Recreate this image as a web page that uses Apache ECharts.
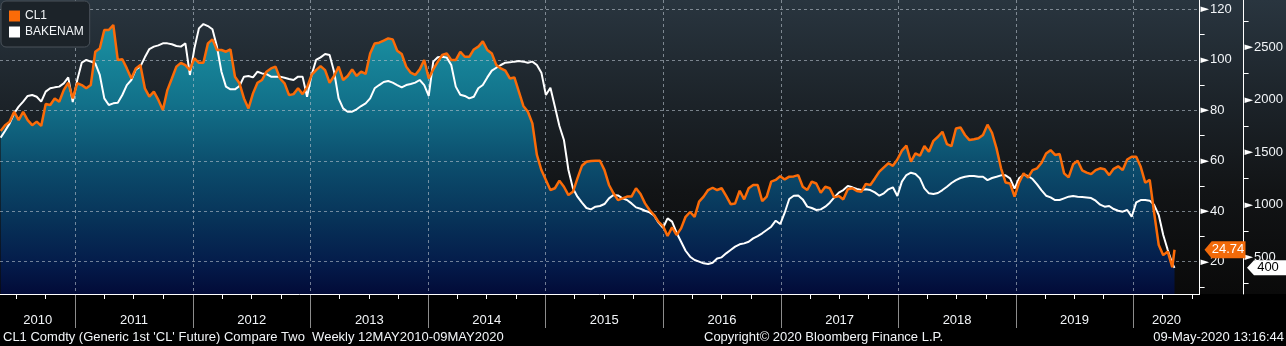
<!DOCTYPE html>
<html>
<head>
<meta charset="utf-8">
<script src="https://cdn.jsdelivr.net/npm/echarts@6/dist/echarts.min.js"></script>
<style>
html, body { margin: 0; padding: 0; background: #000; }
#chart { width: 1286px; height: 346px; }
</style>
</head>
<body>
<div id="chart"></div>
<script>
// CL1 front-month crude future (USD/bbl) against the Baker Hughes North America rig count.
// Biweekly samples from 14 May 2010, plus the final weekly print of 08 May 2020.
const firstSample = [2010, 4, 14];
const stepDays = 14;
const lastSample = [2020, 4, 8];

const cl1 = [
  71.8, 74.1, 75.5, 79.4, 76.1, 79.4, 76.1, 74.1, 75.5, 73.8,
  82.5, 82.1, 84.7, 83.4, 88.0, 90.9, 84.7, 90.7, 90.0, 88.7,
  90.0, 103.2, 104.5, 111.8, 111.8, 113.8, 99.9, 100.2, 96.6, 92.6,
  96.6, 97.9, 88.7, 85.4, 87.4, 84.1, 80.1, 88.0, 92.6, 97.3,
  98.8, 97.9, 95.9, 100.6, 98.8, 98.8, 106.5, 108.1, 103.9, 103.9,
  103.2, 104.1, 93.3, 90.7, 84.7, 80.7, 86.7, 90.9, 92.0, 95.3,
  96.6, 97.3, 92.6, 90.7, 86.0, 86.4, 88.7,
  86.4, 89.1, 94.0, 95.9, 97.5, 95.9, 90.9, 93.6, 97.3, 92.0,
  93.6, 96.2, 93.6, 95.3, 94.4, 102.5, 106.5, 106.8, 107.6, 108.5,
  108.1, 103.6, 102.3, 97.3, 94.9, 94.0, 96.2, 99.9, 92.6, 96.2,
  99.2, 101.9, 102.5, 99.9, 99.9, 103.2, 101.2, 101.2, 104.1, 105.2,
  107.3, 103.9, 102.5, 97.9, 96.6, 95.7, 92.6, 93.0, 87.4, 81.7,
  79.4, 74.8, 62.3, 56.3, 52.4, 48.4, 49.1, 52.1, 49.7, 46.4,
  47.7, 53.0, 58.0, 59.6, 59.9, 60.0,
  60.0, 56.3, 50.4, 47.1, 44.4, 45.1, 45.8, 45.8, 49.1, 46.8,
  43.1, 40.5, 38.5, 35.8, 34.1, 30.2, 33.6, 30.6, 33.2, 37.8,
  39.7, 37.8, 43.8, 45.8, 48.4, 49.3, 48.4, 49.1, 46.1, 42.8,
  43.1, 48.1, 44.7, 49.1, 50.4, 50.4, 44.0, 45.8, 51.7, 52.4,
  53.9, 52.6, 53.7, 53.8, 54.3, 49.7, 48.4, 51.7, 51.0, 47.3,
  49.7, 49.1, 45.5, 46.0, 44.7, 48.7, 49.1, 48.0, 47.7, 50.8,
  50.4, 53.0, 55.7, 57.4, 59.0, 58.0, 60.5,
  64.0, 66.0, 59.6, 62.9, 62.0, 65.8, 63.6, 67.9, 69.5, 71.5,
  66.6, 65.8, 72.8, 73.2, 70.2, 68.2, 68.5, 68.9, 70.2, 74.3,
  71.1, 64.9, 57.0, 51.4, 51.0, 45.8, 51.3, 55.0, 53.3, 56.3,
  57.0, 59.2, 62.9, 64.2, 62.3, 62.7, 55.0, 53.4, 58.6, 60.0,
  56.2, 55.3, 54.7, 56.3, 57.0, 56.6, 54.3, 56.8, 57.8, 56.3,
  60.5, 61.6, 61.6, 57.6, 51.3, 52.4, 39.1, 26.6, 22.6, 24.0,
  17.8, 24.74
];

const bakenam = [
  1640, 1706, 1776, 1871, 1935, 1983, 2037, 2046, 2030, 1983,
  2078, 2110, 2119, 2126, 2157, 2214, 1980, 2189, 2354, 2380,
  2364, 2348, 2237, 2014, 1951, 1967, 1973, 2046, 2141, 2189,
  2291, 2316, 2405, 2484, 2507, 2519, 2538, 2538, 2529, 2513,
  2507, 2538, 2237, 2491, 2681, 2722, 2703, 2672, 2507, 2268,
  2126, 2100, 2100, 2132, 2221, 2227, 2214, 2268, 2252, 2246,
  2221, 2221, 2221, 2211, 2199, 2189, 2221,
  2221, 2030, 2237, 2380, 2405, 2437, 2427, 2268, 2014, 1919,
  1887, 1887, 1910, 1941, 1967, 2014, 2110, 2141, 2170, 2179,
  2164, 2141, 2119, 2141, 2151, 2164, 2189, 2141, 2037, 2364,
  2405, 2411, 2402, 2332, 2126, 2049, 2037, 2014, 2030, 2110,
  2141, 2214, 2278, 2306, 2332, 2354, 2357, 2364, 2370, 2364,
  2354, 2364, 2332, 2259, 2046, 2116, 1935, 1751, 1618, 1332,
  1157, 1078, 1021, 970, 957, 983,
  989, 1008, 1062, 1094, 1090, 1062, 1046, 1014, 976, 963,
  944, 929, 900, 830, 782, 871, 840, 735, 649, 563,
  506, 475, 459, 443, 436, 449, 490, 500, 538, 570,
  602, 624, 633, 649, 681, 703, 729, 760, 792, 849,
  817, 925, 1056, 1087, 1090, 1052, 983, 970, 951, 957,
  983, 1021, 1071, 1116, 1141, 1179, 1167, 1151, 1141, 1148,
  1141, 1119, 1087, 1110, 1148, 1167, 1084,
  1221, 1284, 1306, 1294, 1252, 1157, 1110, 1103, 1113, 1141,
  1173, 1208, 1236, 1256, 1268, 1275, 1275, 1268, 1268, 1236,
  1256, 1268, 1281, 1281, 1252, 1154, 1252, 1287, 1275, 1246,
  1195, 1138, 1087, 1071, 1046, 1046, 1062, 1078, 1084, 1078,
  1075, 1071, 1065, 1040, 1002, 983, 989, 960, 944, 935,
  951, 887, 1024, 1046, 1046, 1040, 998, 903, 713, 570,
  443, 400
];

const cl1Ticks = [20, 40, 60, 80, 100, 120];
const cl1MinorTicks = [10, 30, 50, 70, 90, 110];
const rigTicks = [500, 1000, 1500, 2000, 2500];
const rigMinorTicks = [250, 750, 1250, 1750, 2250, 2750];
const years = [2010, 2011, 2012, 2013, 2014, 2015, 2016, 2017, 2018, 2019, 2020];

const footerLeft = "CL1 Comdty (Generic 1st 'CL' Future) Compare Two  Weekly 12MAY2010-09MAY2020";
const footerMid = 'Copyright\u00A9 2020 Bloomberg Finance L.P.';
const footerRight = '09-May-2020 13:16:44';

// ---- time scaffolding (x values are epoch milliseconds on a linear axis) ----
const sampleDates = [];
for (let k = 0; k < cl1.length - 1; k++) {
  sampleDates.push(new Date(firstSample[0], firstSample[1], firstSample[2] + stepDays * k).getTime());
}
sampleDates.push(new Date(lastSample[0], lastSample[1], lastSample[2]).getTime());

const xMin = new Date(2010, 4, 12).getTime();
const xMax = new Date(2020, 6, 25).getTime();

const yearStarts = years.map(y => new Date(y, 0, 1).getTime()).filter(t => t > xMin && t < xMax);
const quarterTicks = [];
years.forEach(y => [3, 6, 9].forEach(m => {
  const t = new Date(y, m, 1).getTime();
  if (t > xMin && t < xMax) quarterTicks.push(t);
}));
const yearLabelPos = years.map(y => {
  const a = Math.max(new Date(y, 0, 1).getTime(), xMin);
  const b = Math.min(new Date(y + 1, 0, 1).getTime(), xMax);
  return (a + b) / 2;
});

const cl1Data = sampleDates.map((t, i) => [t, cl1[i]]);
const rigData = sampleDates.map((t, i) => [t, bakenam[i]]);
const lastDate = sampleDates[sampleDates.length - 1];
const lastCl1 = cl1[cl1.length - 1];
const lastRig = bakenam[bakenam.length - 1];

const FONT = '"Liberation Sans", Arial, sans-serif';
const ORANGE = '#fb6b08';
const TXT = '#f2f5f8';
const GRID_DASH = { color: 'rgba(185,195,205,0.6)', width: 1, type: [3, 3] };

const pointerLabel = (v) => '{p|\u25BA}{v|' + v + '}';
const pointerRich = {
  p: { fontFamily: 'DejaVu Sans', fontSize: 11, color: '#ffffff', padding: [0, 1, 0, 0] },
  v: { fontFamily: FONT, fontSize: 13, color: TXT }
};

const chart = echarts.init(document.getElementById('chart'), null, { renderer: 'canvas' });

chart.setOption({
  animation: false,
  backgroundColor: '#000',
  textStyle: { fontFamily: FONT },
  graphic: [
    {
      type: 'rect', z: -10, silent: true,
      shape: { x: 0, y: 0, width: 1286, height: 294 },
      style: {
        fill: new echarts.graphic.LinearGradient(0, 0, 0, 1, [
          { offset: 0, color: '#29353f' },
          { offset: 0.35, color: '#1c2329' },
          { offset: 0.65, color: '#121416' },
          { offset: 1, color: '#0a0a0a' }
        ])
      }
    },
    { type: 'text', left: 3, top: 331, silent: true,
      style: { text: footerLeft, fill: TXT, font: '13px ' + FONT } },
    { type: 'text', left: 704, top: 331, silent: true,
      style: { text: footerMid, fill: TXT, font: '13px ' + FONT } },
    { type: 'text', right: 2, top: 331, silent: true,
      style: { text: footerRight, fill: TXT, font: '13px ' + FONT } }
  ],
  legend: {
    left: 1, top: 1,
    orient: 'vertical',
    data: ['CL1', 'BAKENAM'],
    icon: 'rect',
    itemWidth: 11, itemHeight: 11, itemGap: 4,
    padding: [9, 6, 9, 8],
    backgroundColor: '#1c2329',
    borderColor: '#4a525a', borderWidth: 1, borderRadius: 5,
    textStyle: { color: TXT, fontSize: 12, fontFamily: FONT },
    selectedMode: false
  },
  grid: { left: 0, right: 84, top: 0, bottom: 52, containLabel: false },
  xAxis: [
    {
      type: 'value', position: 'bottom', min: xMin, max: xMax, z: 4,
      axisLine: { show: true, lineStyle: { color: '#ffffff', width: 1 } },
      axisTick: { show: true, customValues: quarterTicks, length: 5, lineStyle: { color: '#ffffff' } },
      axisLabel: {
        show: true, customValues: yearLabelPos, margin: 20,
        color: TXT, fontSize: 13, fontFamily: FONT,
        formatter: (v) => String(new Date(v).getFullYear())
      },
      splitLine: { show: false }
    },
    {
      type: 'value', position: 'bottom', min: xMin, max: xMax, z: 2,
      axisLine: { show: false },
      axisTick: { show: true, customValues: yearStarts, length: 34, lineStyle: { color: '#8c8c8c' } },
      axisLabel: { show: false },
      splitLine: { show: true, lineStyle: GRID_DASH }
    }
  ],
  yAxis: [
    {
      type: 'value', position: 'right', offset: 0, min: 7.2, max: 123.7, z: 4,
      axisLine: { show: true, lineStyle: { color: '#ffffff', width: 1 } },
      axisTick: { show: true, customValues: cl1MinorTicks, length: 5, lineStyle: { color: '#ffffff' } },
      axisLabel: { show: true, customValues: cl1Ticks, margin: 1, formatter: pointerLabel, rich: pointerRich },
      splitLine: { show: false }
    },
    {
      type: 'value', position: 'right', offset: 44, min: 151, max: 2951, z: 4,
      axisLine: { show: true, lineStyle: { color: '#ffffff', width: 1 } },
      axisTick: { show: true, customValues: rigMinorTicks, length: 5, lineStyle: { color: '#ffffff' } },
      axisLabel: { show: true, customValues: rigTicks, margin: 1, formatter: pointerLabel, rich: pointerRich },
      splitLine: { show: false }
    },
    {
      type: 'value', position: 'right', offset: 0, min: 7.2, max: 123.7, z: 2,
      axisLine: { show: false },
      axisTick: { show: false, customValues: cl1Ticks },
      axisLabel: { show: false },
      splitLine: { show: true, lineStyle: GRID_DASH }
    }
  ],
  series: [
    {
      name: 'CL1 fill', type: 'line', xAxisIndex: 0, yAxisIndex: 0, z: 1,
      data: cl1Data, showSymbol: false, silent: true,
      lineStyle: { width: 0 },
      areaStyle: {
        origin: 'start', opacity: 1,
        color: new echarts.graphic.LinearGradient(0, 0, 0, 294, [
          { offset: 0, color: '#1d9aaa' },
          { offset: 0.15, color: '#188a9d' },
          { offset: 0.35, color: '#12718a' },
          { offset: 0.55, color: '#0c4f6e' },
          { offset: 0.75, color: '#073258' },
          { offset: 0.9, color: '#041b4a' },
          { offset: 1, color: '#020b38' }
        ], true)
      }
    },
    {
      name: 'BAKENAM', type: 'line', xAxisIndex: 0, yAxisIndex: 1, z: 3,
      data: rigData, showSymbol: false,
      itemStyle: { color: '#ffffff' },
      lineStyle: { color: '#ffffff', width: 2 },
      markPoint: {
        silent: true,
        symbol: 'path://M0,7L7,0L44,0L44,14L7,14Z',
        symbolSize: [44, 15],
        itemStyle: { color: '#ffffff' },
        label: { show: true, position: 'inside', offset: [-1, 0], color: '#000', fontSize: 13, fontFamily: FONT,
          formatter: String(lastRig) },
        data: [{ coord: [lastDate, lastRig], x: 1269 }]
      }
    },
    {
      name: 'CL1', type: 'line', xAxisIndex: 0, yAxisIndex: 0, z: 3,
      data: cl1Data, showSymbol: false,
      itemStyle: { color: ORANGE },
      lineStyle: { color: ORANGE, width: 2.5 },
      markPoint: {
        silent: true,
        symbol: 'path://M0,8L7,0L40,0L40,16L7,16Z',
        symbolSize: [41, 17],
        itemStyle: { color: '#f26a0a' },
        label: { show: true, position: 'inside', offset: [3, 0], color: '#ffffff', fontSize: 13, fontFamily: FONT,
          formatter: lastCl1.toFixed(2) },
        data: [{ coord: [lastDate, lastCl1], x: 1225 }]
      }
    }
  ]
});
</script>
</body>
</html>
